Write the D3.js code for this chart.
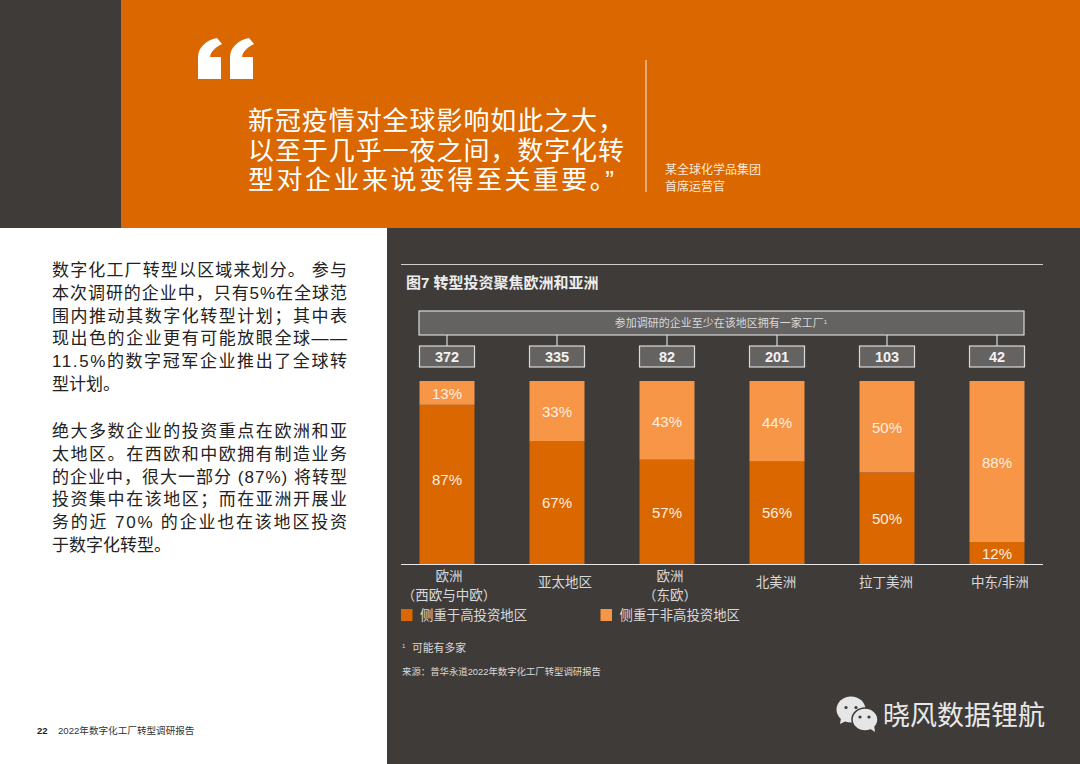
<!DOCTYPE html>
<html lang="zh">

<head>
  <meta charset="UTF-8">
  <title>图7 转型投资聚焦欧洲和亚洲</title>
  <style>
    html, body { margin: 0; padding: 0; background: #fff; }
    svg { display: block; }
    text { font-family: "Liberation Sans", "Noto Sans CJK SC", sans-serif; }
  </style>
</head>

<body>
  <svg id="chart" width="1080" height="764"></svg>
  <script src="https://d3js.org/d3.v7.min.js"></script>
  <script>
    // chart data
    const regions = ["欧洲（西欧与中欧）", "亚太地区", "欧洲（东欧）", "北美洲", "拉丁美洲", "中东/非洲"];
    const regionLines = [["欧洲", "（西欧与中欧）"], ["亚太地区"], ["欧洲", "（东欧）"], ["北美洲"], ["拉丁美洲"], ["中东/非洲"]];
    const counts = [372, 335, 82, 201, 103, 42];
    const highShare = [87, 67, 57, 56, 50, 12];
    const otherShare = [13, 33, 43, 44, 50, 88];
    const seriesNames = ["侧重于高投资地区", "侧重于非高投资地区"];

    // page text
    const quoteLines = ["新冠疫情对全球影响如此之大，", "以至于几乎一夜之间，数字化转", "型对企业来说变得至关重要。”"];
    const para1 = ["数字化工厂转型以区域来划分。 参与", "本次调研的企业中，只有5%在全球范", "围内推动其数字化转型计划；其中表", "现出色的企业更有可能放眼全球——", "11.5%的数字冠军企业推出了全球转", "型计划。"];
    const para2 = ["绝大多数企业的投资重点在欧洲和亚", "太地区。在西欧和中欧拥有制造业务", "的企业中，很大一部分 (87%) 将转型", "投资集中在该地区；而在亚洲开展业", "务的近 70% 的企业也在该地区投资", "于数字化转型。"];

    const orange = "#da6700", light = "#f79646", dark = "#3f3b39", boxFill = "#656262", boxLine = "#d9d9d9", pale = "#d9d9d9";

    const svg = d3.select("#chart");

    // page background blocks
    svg.append("rect").attr("width", 121).attr("height", 228).attr("fill", dark);
    svg.append("rect").attr("x", 121).attr("width", 959).attr("height", 228).attr("fill", orange);
    svg.append("rect").attr("x", 387).attr("y", 228).attr("width", 693).attr("height", 536).attr("fill", dark);

    // big quote marks
    const mark = "M0 41V19C0 10 8 2 19 0L24 6C18 9 13 13 12 19H23V41Z";
    [198, 230].forEach(function (x) {
      svg.append("path").attr("d", mark).attr("transform", "translate(" + x + ",38)").attr("fill", "#fff");
    });

    // quote text
    quoteLines.forEach(function (t, i) {
      svg.append("text").attr("x", 248).attr("y", [130, 160, 189][i])
        .attr("font-size", 26).attr("fill", "#fff")
        .attr("textLength", i == 2 ? 366 : 376).attr("lengthAdjust", "spacing").text(t);
    });
    svg.append("line").attr("x1", 646).attr("x2", 646).attr("y1", 60).attr("y2", 192)
      .attr("stroke", "#f3d9c2").attr("stroke-width", 1.2);
    svg.append("text").attr("x", 665).attr("y", 173.5).attr("font-size", 12).attr("fill", "#fbe9da").text("某全球化学品集团");
    svg.append("text").attr("x", 665).attr("y", 190.5).attr("font-size", 12).attr("fill", "#fbe9da").text("首席运营官");

    // left column body text
    function bodyText(lines, top) {
      lines.forEach(function (t, i) {
        const el = svg.append("text").attr("x", 52).attr("y", top + i * 22.8)
          .attr("font-size", 17).attr("fill", "#222").text(t);
        if (i < lines.length - 1) el.attr("textLength", 295).attr("lengthAdjust", "spacing");
      });
    }
    bodyText(para1, 276);
    bodyText(para2, 437);

    // footer
    svg.append("text").attr("x", 37).attr("y", 734).attr("font-size", 9.5).attr("font-weight", "bold").attr("fill", "#222").text("22");
    svg.append("text").attr("x", 58).attr("y", 734).attr("font-size", 9.6).attr("fill", "#333").text("2022年数字化工厂转型调研报告");

    // chart title
    svg.append("line").attr("x1", 401).attr("x2", 1043).attr("y1", 264.5).attr("y2", 264.5).attr("stroke", "#cfcfcf").attr("stroke-width", 1.2);
    svg.append("text").attr("x", 406).attr("y", 288).attr("font-size", 15).attr("font-weight", "bold").attr("fill", "#ececec").text("图7 转型投资聚焦欧洲和亚洲");

    // scales
    const x = d3.scaleBand().domain(regions).range([419.5, 1024.5]).paddingInner(0.5).paddingOuter(0);
    const y = d3.scaleLinear().domain([0, 100]).range([564, 381]);

    // header box and count boxes
    svg.append("rect").attr("x", 419).attr("y", 311).attr("width", 605).attr("height", 24)
      .attr("fill", boxFill).attr("stroke", boxLine).attr("stroke-width", 1.2);
    const head = svg.append("text").attr("x", 721).attr("y", 327).attr("text-anchor", "middle")
      .attr("font-size", 11).attr("fill", pale).text("参加调研的企业至少在该地区拥有一家工厂");
    head.append("tspan").attr("font-size", 6).attr("dy", -3).text("1");

    regions.forEach(function (r, i) {
      const cx = x(r) + x.bandwidth() / 2;
      svg.append("line").attr("x1", cx).attr("x2", cx).attr("y1", 335).attr("y2", 346).attr("stroke", boxLine).attr("stroke-width", 1.2);
      svg.append("rect").attr("x", x(r)).attr("y", 346).attr("width", x.bandwidth()).attr("height", 21)
        .attr("fill", boxFill).attr("stroke", boxLine).attr("stroke-width", 1.2);
      svg.append("text").attr("x", cx).attr("y", 361.5).attr("text-anchor", "middle")
        .attr("font-size", 14.5).attr("font-weight", "bold").attr("fill", "#f2f2f2").text(counts[i]);
    });

    // stacked bars
    regions.forEach(function (r, i) {
      const cx = x(r) + x.bandwidth() / 2;
      svg.append("rect").attr("x", x(r)).attr("y", y(highShare[i])).attr("width", x.bandwidth())
        .attr("height", y(0) - y(highShare[i])).attr("fill", orange);
      svg.append("rect").attr("x", x(r)).attr("y", y(highShare[i] + otherShare[i])).attr("width", x.bandwidth())
        .attr("height", y(highShare[i]) - y(highShare[i] + otherShare[i])).attr("fill", light);
      // the 87% label sits a little above the middle of its segment
      svg.append("text").attr("x", cx).attr("y", y(highShare[i] / 2) - (highShare[i] == 87 ? 5 : 0)).attr("dy", "0.38em").attr("text-anchor", "middle")
        .attr("font-size", 15).attr("fill", "#fdeee0").text(highShare[i] + "%");
      svg.append("text").attr("x", cx).attr("y", y(highShare[i] + otherShare[i] / 2)).attr("dy", "0.42em").attr("text-anchor", "middle")
        .attr("font-size", 15).attr("fill", "#fdeee0").text(otherShare[i] + "%");
    });

    // baseline
    svg.append("line").attr("x1", 401).attr("x2", 1043).attr("y1", 564.5).attr("y2", 564.5).attr("stroke", "#e6e6e6").attr("stroke-width", 1.2);

    // region labels, the original page sets them slightly off centre
    const labelNudge = [2, 8, 3, -1, -1, 3];
    regions.forEach(function (r, i) {
      const cx = x(r) + x.bandwidth() / 2 + labelNudge[i];
      const lines = regionLines[i];
      lines.forEach(function (t, j) {
        svg.append("text").attr("x", cx).attr("y", (lines.length == 1 ? 587 : 581) + j * 18.5)
          .attr("text-anchor", "middle").attr("font-size", 13.5).attr("fill", pale).text(t);
      });
    });

    // legend
    [[401, 420], [600.5, 619.5]].forEach(function (p, i) {
      svg.append("rect").attr("x", p[0]).attr("y", 609).attr("width", 11.5).attr("height", 12).attr("fill", i == 0 ? orange : light);
      svg.append("text").attr("x", p[1]).attr("y", 620).attr("font-size", 13.4).attr("fill", pale).text(seriesNames[i]);
    });

    // notes
    svg.append("text").attr("x", 402).attr("y", 648).attr("font-size", 6).attr("fill", pale).text("1");
    svg.append("text").attr("x", 412).attr("y", 652).attr("font-size", 10.8).attr("fill", pale).text("可能有多家");
    svg.append("text").attr("x", 402).attr("y", 674.5).attr("font-size", 9.4).attr("fill", pale).text("来源：普华永道2022年数字化工厂转型调研报告");

    // watermark
    const wm = svg.append("g").attr("fill", "#e6e6e6");
    wm.append("ellipse").attr("cx", 851).attr("cy", 709.5).attr("rx", 14.5).attr("ry", 13);
    wm.append("path").attr("d", "M841 718L840 724L848 720Z");
    wm.append("ellipse").attr("cx", 865).attr("cy", 719.5).attr("rx", 13).attr("ry", 11.5).attr("stroke", dark).attr("stroke-width", 1.5);
    wm.append("path").attr("d", "M869 728L875 732L874 725Z");
    [[846, 707.5], [856, 707.5], [860, 717], [869, 717]].forEach(function (p) {
      svg.append("circle").attr("cx", p[0]).attr("cy", p[1]).attr("r", 1.6).attr("fill", dark);
    });
    svg.append("text").attr("x", 883).attr("y", 725).attr("font-size", 27).attr("fill", "#e8e8e8").text("晓风数据锂航");
  </script>
</body>

</html>
